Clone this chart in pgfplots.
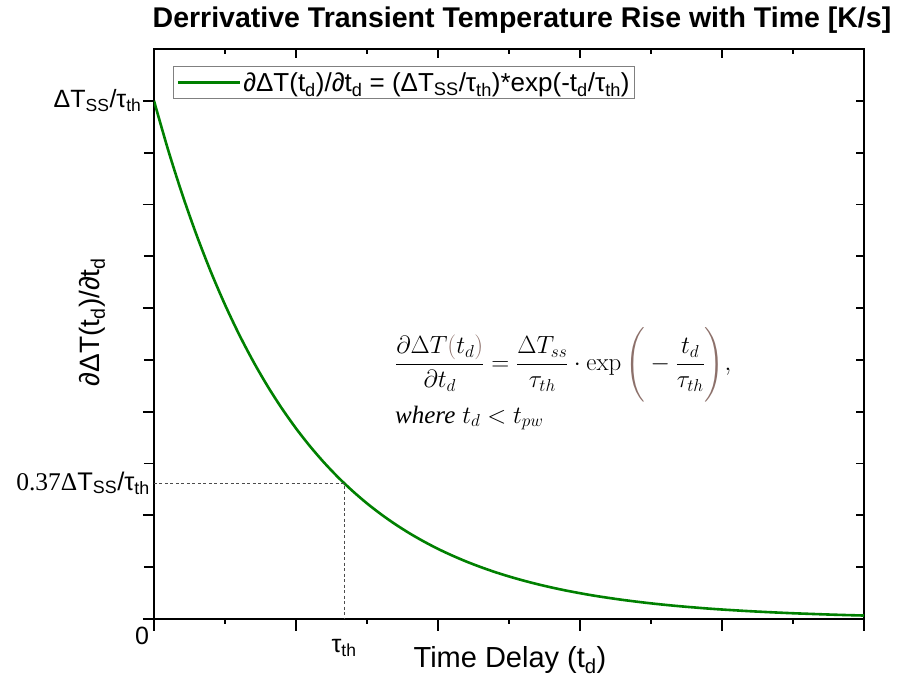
\documentclass[border=0pt]{standalone}
\usepackage[no-math]{fontspec}
\setmainfont{Liberation Sans}
\newfontfamily\seriffont{Liberation Serif}
\usepackage{amsmath}
\usepackage{pgfplots}
\pgfplotsset{compat=1.18}
\definecolor{curvegreen}{RGB}{0,128,0}
\definecolor{parenbrown}{RGB}{140,112,106}
\newcommand{\sub}[1]{\textsubscript{#1}}

\pgfplotstableread{
x y
0.0 1.0000
0.1 0.9048
0.2 0.8187
0.3 0.7408
0.4 0.6703
0.5 0.6065
0.6 0.5488
0.7 0.4966
0.8 0.4493
0.9 0.4066
1.0 0.3679
1.1 0.3329
1.2 0.3012
1.3 0.2725
1.4 0.2466
1.5 0.2231
1.6 0.2019
1.7 0.1827
1.8 0.1653
1.9 0.1496
2.0 0.1353
2.1 0.1225
2.2 0.1108
2.3 0.1003
2.4 0.0907
2.5 0.0821
2.6 0.0743
2.7 0.0672
2.8 0.0608
2.9 0.0550
3.0 0.0498
3.1 0.0450
3.2 0.0408
3.3 0.0369
3.4 0.0334
3.5 0.0302
3.6 0.0273
3.7 0.0247
3.8 0.0224
3.9 0.0202
4.0 0.0183
4.1 0.0166
4.2 0.0150
4.3 0.0136
4.4 0.0123
4.5 0.0111
4.6 0.0101
4.7 0.0091
4.8 0.0082
4.9 0.0074
5.0 0.0067
}\decaytable

\begin{document}
\begin{tikzpicture}
\useasboundingbox (-154pt,-66pt) rectangle (748pt,619pt);
\pgfplotsset{
  baseframe/.style={
    width=710pt, height=570pt, scale only axis,
    at={(0,0)}, anchor=south west,
    xmin=0, xmax=5, ymin=0, ymax=1.1,
    axis line style={line width=2pt, black},
    every tick/.style={black, line width=1.8pt},
    xticklabels={}, yticklabels={},
  },
  xticks/.style={xtick={0,1,2,3,4,5}, minor xtick={0.5,1.5,2.5,3.5,4.5}, ytick=\empty},
  yticks/.style={ytick={0,0.2,0.4,0.6,0.8,1.0}, minor ytick={0.1,0.3,0.5,0.7,0.9}, xtick=\empty},
}
% inner ticks on top
\begin{axis}[baseframe, xticks, xtick pos=right, tick align=inside,
  major tick length=9pt, minor tick length=5pt]
\end{axis}
% inner ticks on right
\begin{axis}[baseframe, yticks, ytick pos=right, tick align=inside,
  major tick length=8pt, minor tick length=8pt]
\end{axis}
% outer ticks on bottom
\begin{axis}[baseframe, xticks, xtick pos=left, tick align=outside,
  major tick length=12pt, minor tick length=5pt]
\end{axis}
% main axis: outer ticks on left, the curve
\begin{axis}[baseframe, yticks, ytick pos=left, tick align=outside,
  major tick length=11pt, minor tick length=10pt,
  clip mode=individual,
  yticklabels={,,,,,{ΔT\sub{SS}/τ\sub{th}}},
  yticklabel style={font=\fontsize{25}{28}\selectfont, xshift=2pt},
  legend style={at={(0.027,0.970)}, anchor=north west, draw=gray, line width=1pt,
    font=\fontsize{26}{30}\selectfont, inner xsep=3pt, inner ysep=4pt},
  legend cell align=left,
  legend image code/.code={\draw[#1] (0pt,0pt) -- (62pt,0pt);},
]
\addplot[curvegreen, line width=2.6pt, smooth] table[x=x, y=y] {\decaytable};
\addlegendentry{∂ΔT(t\sub{d})/∂t\sub{d} = (ΔT\sub{SS}/τ\sub{th})*exp(-t\sub{d}/τ\sub{th})}
\addplot[black!70, line width=0.8pt, dash pattern=on 3pt off 2.5pt, forget plot]
  coordinates {(0,0.2624) (1.338,0.2624) (1.338,0)};
\node[anchor=east, inner sep=0pt, font=\fontsize{25.5}{28}\selectfont]
  at (axis cs:0,0.2624) [xshift=-4pt] {{\seriffont 0.37Δ}T\sub{SS}/τ\sub{th}};
\node[font=\fontsize{25}{28}\selectfont] at (axis cs:0,0) [xshift=-12pt, yshift=-17pt] {0};
\node[font=\fontsize{25}{28}\selectfont] at (axis cs:1.338,0) [yshift=-29pt] {τ\sub{th}};
\end{axis}
% axis titles and annotation
\node[font=\fontsize{28.5}{32}\selectfont\bfseries] at (368pt,599pt)
  {Derrivative Transient Temperature Rise with Time [K/s]};
\node[font=\fontsize{29}{32}\selectfont] at (356pt,-41pt) {Time Delay (t\sub{d})};
\node[font=\fontsize{28}{32}\selectfont, rotate=90] at (-62pt,297pt) {∂ΔT(t\sub{d})/∂t\sub{d}};
\node[anchor=north west, align=left, inner sep=0pt, font=\fontsize{25}{31}\selectfont]
  at (241pt,292pt) {$\dfrac{\partial\Delta T{\color{parenbrown}(}t_d{\color{parenbrown})}}{\partial t_d}
  = \dfrac{\Delta T_{ss}}{\tau_{th}}\cdot\exp{\color{parenbrown}\Bigg(}-\dfrac{t_d}{\tau_{th}}{\color{parenbrown}\Bigg)},$\\[3pt]
  {\seriffont\itshape where} $t_d < t_{pw}$};
\end{tikzpicture}
\end{document}
